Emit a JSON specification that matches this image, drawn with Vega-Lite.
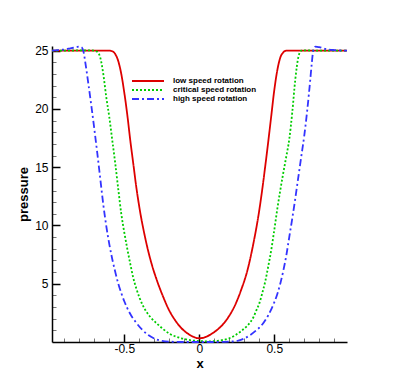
{
  "$schema": "https://vega.github.io/schema/vega-lite/v6.json",
  "width": 295,
  "height": 296,
  "autosize": {"type": "none"},
  "padding": {"left": 52, "top": 46, "right": 48, "bottom": 43},
  "background": "white",
  "config": {
    "view": {"stroke": null},
    "font": "Liberation Sans",
    "axis": {"grid": false, "domainColor": "black", "tickColor": "black", "labelColor": "black", "titleColor": "black"}
  },
  "datasets": {
    "curves": [
      {"x": -0.982, "p": 25, "s": "low speed rotation"},
      {"x": -0.9, "p": 25, "s": "low speed rotation"},
      {"x": -0.8, "p": 25, "s": "low speed rotation"},
      {"x": -0.7, "p": 25, "s": "low speed rotation"},
      {"x": -0.6, "p": 25, "s": "low speed rotation"},
      {"x": -0.58, "p": 24.95, "s": "low speed rotation"},
      {"x": -0.56, "p": 24.7, "s": "low speed rotation"},
      {"x": -0.54, "p": 24.1, "s": "low speed rotation"},
      {"x": -0.52, "p": 23.0, "s": "low speed rotation"},
      {"x": -0.5, "p": 21.4, "s": "low speed rotation"},
      {"x": -0.48, "p": 19.5, "s": "low speed rotation"},
      {"x": -0.46, "p": 17.3, "s": "low speed rotation"},
      {"x": -0.44, "p": 15.3, "s": "low speed rotation"},
      {"x": -0.42, "p": 13.3, "s": "low speed rotation"},
      {"x": -0.4, "p": 11.6, "s": "low speed rotation"},
      {"x": -0.36, "p": 8.9, "s": "low speed rotation"},
      {"x": -0.32, "p": 6.8, "s": "low speed rotation"},
      {"x": -0.28, "p": 5.2, "s": "low speed rotation"},
      {"x": -0.24, "p": 3.85, "s": "low speed rotation"},
      {"x": -0.2, "p": 2.7, "s": "low speed rotation"},
      {"x": -0.16, "p": 1.85, "s": "low speed rotation"},
      {"x": -0.12, "p": 1.2, "s": "low speed rotation"},
      {"x": -0.08, "p": 0.75, "s": "low speed rotation"},
      {"x": -0.04, "p": 0.45, "s": "low speed rotation"},
      {"x": 0, "p": 0.32, "s": "low speed rotation"},
      {"x": 0.04, "p": 0.42, "s": "low speed rotation"},
      {"x": 0.08, "p": 0.68, "s": "low speed rotation"},
      {"x": 0.12, "p": 1.05, "s": "low speed rotation"},
      {"x": 0.16, "p": 1.55, "s": "low speed rotation"},
      {"x": 0.2, "p": 2.25, "s": "low speed rotation"},
      {"x": 0.24, "p": 3.2, "s": "low speed rotation"},
      {"x": 0.28, "p": 4.5, "s": "low speed rotation"},
      {"x": 0.32, "p": 6.1, "s": "low speed rotation"},
      {"x": 0.36, "p": 8.4, "s": "low speed rotation"},
      {"x": 0.4, "p": 11.3, "s": "low speed rotation"},
      {"x": 0.42, "p": 13.1, "s": "low speed rotation"},
      {"x": 0.44, "p": 15.1, "s": "low speed rotation"},
      {"x": 0.46, "p": 17.2, "s": "low speed rotation"},
      {"x": 0.48, "p": 19.4, "s": "low speed rotation"},
      {"x": 0.5, "p": 21.6, "s": "low speed rotation"},
      {"x": 0.52, "p": 23.3, "s": "low speed rotation"},
      {"x": 0.54, "p": 24.4, "s": "low speed rotation"},
      {"x": 0.56, "p": 24.85, "s": "low speed rotation"},
      {"x": 0.58, "p": 25.0, "s": "low speed rotation"},
      {"x": 0.6, "p": 25, "s": "low speed rotation"},
      {"x": 0.7, "p": 25, "s": "low speed rotation"},
      {"x": 0.8, "p": 25, "s": "low speed rotation"},
      {"x": 0.9, "p": 25, "s": "low speed rotation"},
      {"x": 0.985, "p": 25, "s": "low speed rotation"},

      {"x": -0.982, "p": 25, "s": "critical speed rotation"},
      {"x": -0.9, "p": 25, "s": "critical speed rotation"},
      {"x": -0.8, "p": 25.02, "s": "critical speed rotation"},
      {"x": -0.72, "p": 25.02, "s": "critical speed rotation"},
      {"x": -0.7, "p": 25, "s": "critical speed rotation"},
      {"x": -0.68, "p": 24.9, "s": "critical speed rotation"},
      {"x": -0.66, "p": 24.4, "s": "critical speed rotation"},
      {"x": -0.64, "p": 23.0, "s": "critical speed rotation"},
      {"x": -0.62, "p": 21.0, "s": "critical speed rotation"},
      {"x": -0.6, "p": 19.3, "s": "critical speed rotation"},
      {"x": -0.58, "p": 17.3, "s": "critical speed rotation"},
      {"x": -0.56, "p": 15.3, "s": "critical speed rotation"},
      {"x": -0.54, "p": 13.1, "s": "critical speed rotation"},
      {"x": -0.52, "p": 11.0, "s": "critical speed rotation"},
      {"x": -0.5, "p": 9.4, "s": "critical speed rotation"},
      {"x": -0.48, "p": 8.0, "s": "critical speed rotation"},
      {"x": -0.46, "p": 6.7, "s": "critical speed rotation"},
      {"x": -0.44, "p": 5.5, "s": "critical speed rotation"},
      {"x": -0.42, "p": 4.6, "s": "critical speed rotation"},
      {"x": -0.4, "p": 3.85, "s": "critical speed rotation"},
      {"x": -0.36, "p": 2.75, "s": "critical speed rotation"},
      {"x": -0.32, "p": 2.05, "s": "critical speed rotation"},
      {"x": -0.28, "p": 1.55, "s": "critical speed rotation"},
      {"x": -0.24, "p": 1.1, "s": "critical speed rotation"},
      {"x": -0.2, "p": 0.72, "s": "critical speed rotation"},
      {"x": -0.16, "p": 0.48, "s": "critical speed rotation"},
      {"x": -0.12, "p": 0.32, "s": "critical speed rotation"},
      {"x": -0.08, "p": 0.2, "s": "critical speed rotation"},
      {"x": -0.04, "p": 0.12, "s": "critical speed rotation"},
      {"x": 0, "p": 0.08, "s": "critical speed rotation"},
      {"x": 0.04, "p": 0.06, "s": "critical speed rotation"},
      {"x": 0.08, "p": 0.06, "s": "critical speed rotation"},
      {"x": 0.12, "p": 0.1, "s": "critical speed rotation"},
      {"x": 0.16, "p": 0.18, "s": "critical speed rotation"},
      {"x": 0.2, "p": 0.32, "s": "critical speed rotation"},
      {"x": 0.24, "p": 0.58, "s": "critical speed rotation"},
      {"x": 0.28, "p": 0.95, "s": "critical speed rotation"},
      {"x": 0.32, "p": 1.4, "s": "critical speed rotation"},
      {"x": 0.34, "p": 1.7, "s": "critical speed rotation"},
      {"x": 0.36, "p": 2.1, "s": "critical speed rotation"},
      {"x": 0.38, "p": 2.7, "s": "critical speed rotation"},
      {"x": 0.4, "p": 3.3, "s": "critical speed rotation"},
      {"x": 0.42, "p": 4.2, "s": "critical speed rotation"},
      {"x": 0.44, "p": 5.2, "s": "critical speed rotation"},
      {"x": 0.46, "p": 6.5, "s": "critical speed rotation"},
      {"x": 0.48, "p": 7.9, "s": "critical speed rotation"},
      {"x": 0.5, "p": 9.6, "s": "critical speed rotation"},
      {"x": 0.52, "p": 11.4, "s": "critical speed rotation"},
      {"x": 0.54, "p": 13.0, "s": "critical speed rotation"},
      {"x": 0.56, "p": 14.5, "s": "critical speed rotation"},
      {"x": 0.58, "p": 15.9, "s": "critical speed rotation"},
      {"x": 0.6, "p": 17.4, "s": "critical speed rotation"},
      {"x": 0.62, "p": 19.7, "s": "critical speed rotation"},
      {"x": 0.64, "p": 22.5, "s": "critical speed rotation"},
      {"x": 0.66, "p": 24.4, "s": "critical speed rotation"},
      {"x": 0.68, "p": 25.0, "s": "critical speed rotation"},
      {"x": 0.7, "p": 25.02, "s": "critical speed rotation"},
      {"x": 0.8, "p": 25, "s": "critical speed rotation"},
      {"x": 0.9, "p": 25, "s": "critical speed rotation"},
      {"x": 0.985, "p": 25, "s": "critical speed rotation"},

      {"x": -0.982, "p": 25.0, "s": "high speed rotation"},
      {"x": -0.94, "p": 25.05, "s": "high speed rotation"},
      {"x": -0.9, "p": 25.1, "s": "high speed rotation"},
      {"x": -0.86, "p": 25.2, "s": "high speed rotation"},
      {"x": -0.82, "p": 25.3, "s": "high speed rotation"},
      {"x": -0.8, "p": 25.35, "s": "high speed rotation"},
      {"x": -0.785, "p": 25.3, "s": "high speed rotation"},
      {"x": -0.77, "p": 24.8, "s": "high speed rotation"},
      {"x": -0.76, "p": 24.0, "s": "high speed rotation"},
      {"x": -0.74, "p": 22.2, "s": "high speed rotation"},
      {"x": -0.72, "p": 20.3, "s": "high speed rotation"},
      {"x": -0.7, "p": 18.3, "s": "high speed rotation"},
      {"x": -0.68, "p": 16.2, "s": "high speed rotation"},
      {"x": -0.66, "p": 14.0, "s": "high speed rotation"},
      {"x": -0.64, "p": 11.8, "s": "high speed rotation"},
      {"x": -0.62, "p": 9.95, "s": "high speed rotation"},
      {"x": -0.6, "p": 8.4, "s": "high speed rotation"},
      {"x": -0.58, "p": 7.1, "s": "high speed rotation"},
      {"x": -0.56, "p": 6.0, "s": "high speed rotation"},
      {"x": -0.54, "p": 5.0, "s": "high speed rotation"},
      {"x": -0.52, "p": 4.2, "s": "high speed rotation"},
      {"x": -0.5, "p": 3.5, "s": "high speed rotation"},
      {"x": -0.46, "p": 2.4, "s": "high speed rotation"},
      {"x": -0.42, "p": 1.65, "s": "high speed rotation"},
      {"x": -0.38, "p": 1.05, "s": "high speed rotation"},
      {"x": -0.34, "p": 0.6, "s": "high speed rotation"},
      {"x": -0.3, "p": 0.3, "s": "high speed rotation"},
      {"x": -0.26, "p": 0.12, "s": "high speed rotation"},
      {"x": -0.2, "p": 0.03, "s": "high speed rotation"},
      {"x": -0.1, "p": 0, "s": "high speed rotation"},
      {"x": 0, "p": 0, "s": "high speed rotation"},
      {"x": 0.1, "p": 0, "s": "high speed rotation"},
      {"x": 0.2, "p": 0.03, "s": "high speed rotation"},
      {"x": 0.26, "p": 0.12, "s": "high speed rotation"},
      {"x": 0.3, "p": 0.3, "s": "high speed rotation"},
      {"x": 0.34, "p": 0.6, "s": "high speed rotation"},
      {"x": 0.38, "p": 1.0, "s": "high speed rotation"},
      {"x": 0.42, "p": 1.5, "s": "high speed rotation"},
      {"x": 0.46, "p": 2.3, "s": "high speed rotation"},
      {"x": 0.5, "p": 3.4, "s": "high speed rotation"},
      {"x": 0.52, "p": 4.1, "s": "high speed rotation"},
      {"x": 0.54, "p": 5.0, "s": "high speed rotation"},
      {"x": 0.56, "p": 6.1, "s": "high speed rotation"},
      {"x": 0.58, "p": 7.4, "s": "high speed rotation"},
      {"x": 0.6, "p": 9.0, "s": "high speed rotation"},
      {"x": 0.62, "p": 10.6, "s": "high speed rotation"},
      {"x": 0.64, "p": 12.3, "s": "high speed rotation"},
      {"x": 0.66, "p": 14.1, "s": "high speed rotation"},
      {"x": 0.68, "p": 15.9, "s": "high speed rotation"},
      {"x": 0.7, "p": 17.7, "s": "high speed rotation"},
      {"x": 0.72, "p": 19.9, "s": "high speed rotation"},
      {"x": 0.74, "p": 22.5, "s": "high speed rotation"},
      {"x": 0.75, "p": 23.9, "s": "high speed rotation"},
      {"x": 0.76, "p": 25.0, "s": "high speed rotation"},
      {"x": 0.775, "p": 25.35, "s": "high speed rotation"},
      {"x": 0.8, "p": 25.3, "s": "high speed rotation"},
      {"x": 0.84, "p": 25.15, "s": "high speed rotation"},
      {"x": 0.9, "p": 25.05, "s": "high speed rotation"},
      {"x": 0.985, "p": 25.0, "s": "high speed rotation"}
    ]
  },
  "data": {"name": "curves"},
  "resolve": {"scale": {"x": "shared", "y": "shared"}, "axis": {"x": "independent", "y": "independent"}},
  "layer": [
    {
      "mark": {"type": "line", "opacity": 0},
      "encoding": {
        "x": {"field": "x", "type": "quantitative", "scale": {"domain": [-0.982, 0.985], "nice": false, "zero": false},
          "axis": {"orient": "bottom", "values": [-0.9,-0.8,-0.7,-0.6,-0.4,-0.3,-0.2,-0.1,0.1,0.2,0.3,0.4,0.6,0.7,0.8,0.9], "labels": false, "domain": false, "title": null, "tickSize": -4, "tickWidth": 1, "tickColor": "#777"}},
        "y": {"field": "p", "type": "quantitative", "scale": {"domain": [0, 25.4], "nice": false},
          "axis": {"orient": "left", "values": [1,2,3,4,6,7,8,9,11,12,13,14,16,17,18,19,21,22,23,24], "labels": false, "domain": false, "title": null, "tickSize": -4, "tickWidth": 1, "tickColor": "#777"}},
        "detail": {"field": "s"}
      }
    },
    {
      "mark": {"type": "line", "interpolate": "monotone", "strokeWidth": 1.8},
      "encoding": {
        "x": {"field": "x", "type": "quantitative",
          "axis": {"orient": "bottom", "values": [-0.5, 0, 0.5], "format": "~g", "labelExpr": "datum.value == 0 ? '0' : replace(datum.label, '\u2212', '-')", "title": "x", "titleFontSize": 13, "titleFontWeight": "bold", "titlePadding": 3, "labelFontSize": 12, "labelPadding": 9, "tickSize": -8, "tickWidth": 1.5, "domainWidth": 1.5}},
        "y": {"field": "p", "type": "quantitative",
          "axis": {"orient": "left", "values": [5, 10, 15, 20, 25], "title": "pressure", "titleFontSize": 13, "titleFontWeight": "bold", "titlePadding": 4, "labelFontSize": 12, "labelPadding": 12, "tickSize": -8, "tickWidth": 1.5, "domainWidth": 1.5}},
        "color": {"field": "s", "type": "nominal",
          "scale": {"domain": ["low speed rotation", "critical speed rotation", "high speed rotation"], "range": ["#dd0000", "#00cc00", "#3333ff"]},
          "legend": {"orient": "none", "legendX": 91, "legendY": 30, "title": null, "symbolType": "M-4,0H4", "symbolSize": 64, "symbolStrokeWidth": 2, "labelFontSize": 8, "labelFontWeight": "bold", "labelOffset": 20, "rowPadding": -3.3, "padding": 0, "labelColor": "black"}},
        "strokeDash": {"field": "s", "type": "nominal",
          "scale": {"domain": ["low speed rotation", "critical speed rotation", "high speed rotation"], "range": [[1, 0], [2, 2], [7, 3, 2, 3]]},
          "legend": {"orient": "none", "legendX": 91, "legendY": 30, "title": null, "symbolType": "M-4,0H4", "symbolSize": 64, "symbolStrokeWidth": 2, "labelFontSize": 8, "labelFontWeight": "bold", "labelOffset": 20, "rowPadding": -3.3, "padding": 0, "labelColor": "black"}}
      }
    }
  ]
}
